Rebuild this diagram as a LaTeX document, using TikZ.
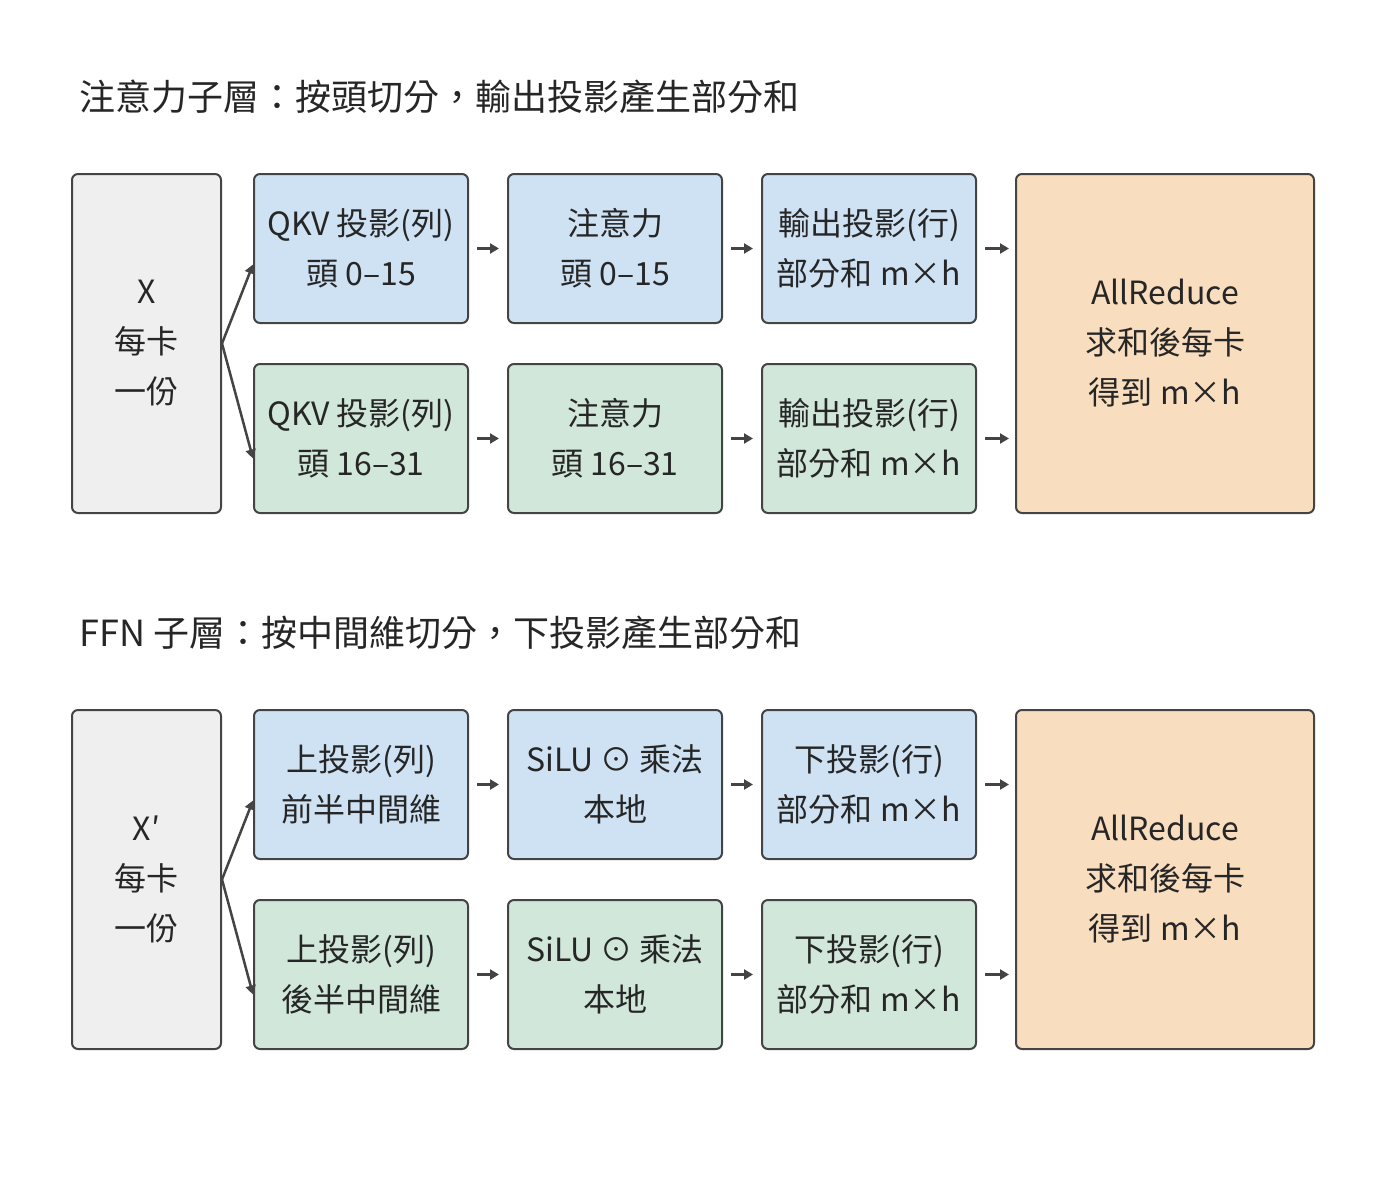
\documentclass[tikz,border=0pt]{standalone}
\usepackage{fontspec}
\setmainfont{Noto Sans CJK TC}
\usetikzlibrary{arrows.meta}
\definecolor{bd}{HTML}{444444}
\definecolor{gr}{HTML}{EFEFEF}
\definecolor{bl}{HTML}{CFE2F3}
\definecolor{gn}{HTML}{D0E7DA}
\definecolor{og}{HTML}{F9DDBF}
\begin{document}
\begin{tikzpicture}[x=1pt,y=-1pt,
 box/.style={draw=bd,line width=2pt,rounded corners=6pt,align=center,inner sep=0pt,
   font=\fontsize{32}{50}\selectfont,text=black!85},
 ttl/.style={anchor=west,font=\fontsize{36}{40}\selectfont,text=black!85},
 ar/.style={draw=bd,line width=2.5pt,-{Triangle[length=9pt,width=10pt]}}]
\useasboundingbox (0,0) rectangle (1400,1200);
\newcommand\bx[7]{\node[box,fill=#6,minimum width=#4pt,minimum height=#5pt] (#1) at (#2,#3) {#7};}
\foreach \s/\o/\ttext in {a/0/注意力子層：按頭切分，輸出投影產生部分和, f/536/FFN 子層：按中間維切分，下投影產生部分和}{
 \node[ttl] (t\s) at (76,97+\o) {\ttext};}
% attention
\bx{ax}{146.5}{343.5}{149}{339}{gr}{X\\每卡\\一份}
\bx{a1}{361}{248.5}{214}{149}{bl}{QKV 投影(列)\\頭 0–15}
\bx{a2}{615}{248.5}{214}{149}{bl}{注意力\\頭 0–15}
\bx{a3}{869}{248.5}{214}{149}{bl}{輸出投影(行)\\部分和 m×h}
\bx{b1}{361}{438.5}{214}{149}{gn}{QKV 投影(列)\\頭 16–31}
\bx{b2}{615}{438.5}{214}{149}{gn}{注意力\\頭 16–31}
\bx{b3}{869}{438.5}{214}{149}{gn}{輸出投影(行)\\部分和 m×h}
\bx{ar}{1165}{343.5}{298}{339}{og}{AllReduce\\求和後每卡\\得到 m×h}
% ffn
\bx{fx}{146.5}{879.5}{149}{339}{gr}{X′\\每卡\\一份}
\bx{c1}{361}{784.5}{214}{149}{bl}{上投影(列)\\前半中間維}
\bx{c2}{615}{784.5}{214}{149}{bl}{SiLU ⊙ 乘法\\本地}
\bx{c3}{869}{784.5}{214}{149}{bl}{下投影(行)\\部分和 m×h}
\bx{d1}{361}{974.5}{214}{149}{gn}{上投影(列)\\後半中間維}
\bx{d2}{615}{974.5}{214}{149}{gn}{SiLU ⊙ 乘法\\本地}
\bx{d3}{869}{974.5}{214}{149}{gn}{下投影(行)\\部分和 m×h}
\bx{fr}{1165}{879.5}{298}{339}{og}{AllReduce\\求和後每卡\\得到 m×h}
% arrows
\draw[ar] (ax.east) -- ([yshift=-16pt]a1.west);
\draw[ar] (ax.east) -- ([yshift=-20pt]b1.west);
\draw[ar] (fx.east) -- ([yshift=-16pt]c1.west);
\draw[ar] (fx.east) -- ([yshift=-20pt]d1.west);
\foreach \p/\q in {a1/a2,a2/a3,b1/b2,b2/b3,c1/c2,c2/c3,d1/d2,d2/d3}{
 \draw[ar] ([xshift=8pt]\p.east) -- ([xshift=-8pt]\q.west);}
\foreach \p in {a3,b3,c3,d3}{
 \draw[ar] ([xshift=8pt]\p.east) -- ([xshift=32pt]\p.east);}
\end{tikzpicture}
\end{document}
